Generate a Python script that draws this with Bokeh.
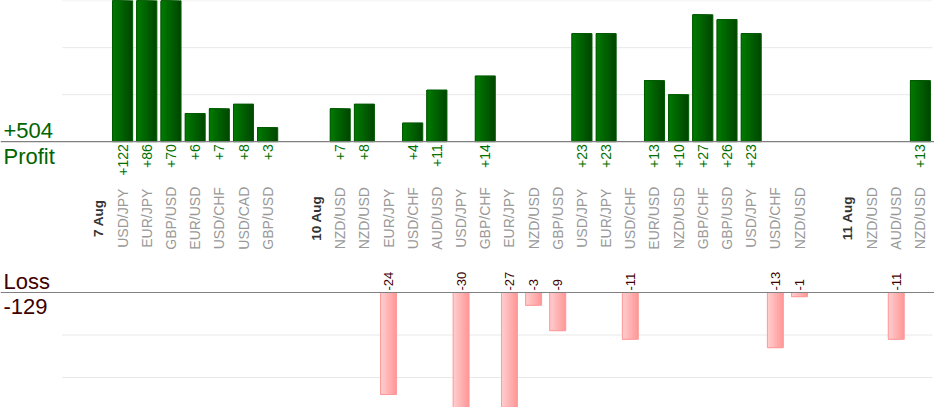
import math
from bokeh.plotting import figure
from bokeh.models import Range1d, Span, ColumnDataSource
from bokeh.layouts import column
from bokeh.transform import dodge
from bokeh.core.properties import value
from bokeh.embed import file_html
from bokeh.resources import INLINE

# ---------------- data ----------------
dates = ["7 Aug", "10 Aug", "11 Aug"]
pairs_7aug = ["USD/JPY", "EUR/JPY", "GBP/USD", "EUR/USD", "USD/CHF", "USD/CAD", "GBP/USD"]
result_7aug = [122, 86, 70, 6, 7, 8, 3]
pairs_10aug = ["NZD/USD", "NZD/USD", "EUR/JPY", "USD/CHF", "AUD/USD", "USD/JPY", "GBP/CHF",
               "EUR/JPY", "NZD/USD", "GBP/USD", "USD/JPY", "EUR/JPY", "USD/CHF", "EUR/USD",
               "NZD/USD", "GBP/CHF", "GBP/USD", "USD/JPY", "USD/CHF", "NZD/USD"]
result_10aug = [7, 8, -24, 4, 11, -30, 14, -27, -3, -9, 23, 23, -11, 13, 10, 27, 26, 23, -13, -1]
pairs_11aug = ["NZD/USD", "AUD/USD", "NZD/USD"]
result_11aug = [0, -11, 13]
grid_profit = [10, 20, 30]
grid_loss = [-10, -20]

groups = [(dates[0], pairs_7aug, result_7aug),
          (dates[1], pairs_10aug, result_10aug),
          (dates[2], pairs_11aug, result_11aug)]

# ---------------- slots ----------------
date_x, pair_x, pair_lbl = [], [], []
px, ptop, plbl = [], [], []
lx, lbot, llbl = [], [], []
slot = 0
for d, pairs, res in groups:
    slot += 1  # empty slot before each day
    date_x.append(slot + 0.5)
    slot += 1
    for name, r in zip(pairs, res):
        c = slot + 0.5
        pair_x.append(c)
        pair_lbl.append(name)
        if r > 0:
            px.append(c); ptop.append(r); plbl.append("+%d" % r)
        elif r < 0:
            lx.append(c); lbot.append(r); llbl.append("%d" % r)
        slot += 1
n_slots = slot
total_profit = sum(ptop)
total_loss = sum(lbot)

prof_src = ColumnDataSource(dict(x=px, top=ptop, lbl=plbl))
loss_src = ColumnDataSource(dict(x=lx, bottom=lbot, lbl=llbl))
pair_src = ColumnDataSource(dict(x=pair_x, lbl=pair_lbl))
date_src = ColumnDataSource(dict(x=date_x, lbl=dates))

# ---------------- layout ----------------
W = 934
LEFT_PX, RIGHT_PX = 61.7, 2.0
slot_px = (W - LEFT_PX - RIGHT_PX) / n_slots
xr = Range1d(-LEFT_PX / slot_px, n_slots + RIGHT_PX / slot_px)

H1, BASE1, PPU1 = 250, 141.2, 4.7
H2, BASE2, PPU2 = 157, 42.0, 4.25
yr1 = Range1d(-(H1 - BASE1) / PPU1, BASE1 / PPU1)
yr2 = Range1d(-(H2 - BASE2) / PPU2, BASE2 / PPU2)

FONT = value("Liberation Sans")
BIG_SHIFT = -7


def make(h, yr):
    p = figure(width=W, height=h, x_range=xr, y_range=yr, output_backend="svg",
               toolbar_location=None, min_border=0, x_axis_location=None,
               y_axis_location=None)
    p.grid.visible = False
    p.outline_line_color = None
    p.background_fill_color = "white"
    return p


def hexc(c):
    return tuple(int(c[i:i + 2], 16) for i in (1, 3, 5))


def lerp(c1, c2, t):
    a, b = hexc(c1), hexc(c2)
    return "#%02x%02x%02x" % tuple(int(round(a[i] + (b[i] - a[i]) * t)) for i in range(3))


def gradient_bars(p, src, width, dark, light, border, top=None, bottom=None, n=10):
    for j in range(n):
        frac = j / n
        kw = dict(x=dodge("x", -width * frac / 2), width=width * (1 - frac), source=src,
                  fill_color=lerp(dark, light, j / (n - 1)), line_color=None)
        if top:
            p.vbar(top=top, bottom=0, **kw)
        else:
            p.vbar(top=0, bottom=bottom, **kw)
    if top:
        p.vbar(x="x", top=top, bottom=0, width=width, source=src, fill_alpha=0,
               line_color=border, line_width=1)
    else:
        p.vbar(x="x", top=0, bottom=bottom, width=width, source=src, fill_alpha=0,
               line_color=border, line_width=1)


# ---------------- profit chart ----------------
p1 = make(H1, yr1)
p1.segment(x0=0, x1=n_slots, y0=grid_profit, y1=grid_profit, line_color="#e8e8e8", line_width=1)
gradient_bars(p1, prof_src, 0.83, "#004800", "#007800", "#005a00", top="top")
p1.add_layout(Span(location=0, dimension="width", line_color="#808080", line_width=1.2))

p1.text(x="x", y=0, text="lbl", source=prof_src, angle=math.pi / 2, text_align="right",
        text_baseline="middle", y_offset=2.5, text_font=FONT, text_font_size="14px",
        text_color="#007000")
p1.text(x="x", y=0, text="lbl", source=pair_src, angle=math.pi / 2, text_align="center",
        text_baseline="middle", y_offset=76.5, text_font=FONT, text_font_size="14px",
        text_color="#999999")
p1.text(x="x", y=0, text="lbl", source=date_src, angle=math.pi / 2, text_align="center",
        text_baseline="middle", y_offset=76.5, text_font=FONT, text_font_size="13.5px",
        text_font_style="bold", text_color="#333333")
p1.text(x=[xr.start], y=[0], text=["+%d" % total_profit], x_offset=3, y_offset=-4 + BIG_SHIFT,
        text_align="left", text_baseline="alphabetic", text_font=FONT,
        text_font_size="22px", text_color="#006400")
p1.text(x=[xr.start], y=[0], text=["Profit"], x_offset=3, y_offset=21.7 + BIG_SHIFT,
        text_align="left", text_baseline="alphabetic", text_font=FONT,
        text_font_size="22px", text_color="#006400")

# ---------------- loss chart ----------------
p2 = make(H2, yr2)
p2.segment(x0=0, x1=n_slots, y0=grid_loss, y1=grid_loss, line_color="#e8e8e8", line_width=1)
gradient_bars(p2, loss_src, 0.66, "#ff9999", "#ffcccc", "#ff9999", bottom="bottom")
p2.add_layout(Span(location=0, dimension="width", line_color="#808080", line_width=1.2))
p2.text(x="x", y=0, text="lbl", source=loss_src, angle=math.pi / 2, text_align="left",
        text_baseline="middle", y_offset=-2, text_font=FONT, text_font_size="13px",
        text_color="#400000")
p2.text(x=[xr.start], y=[0], text=["Loss"], x_offset=3, y_offset=-4 + BIG_SHIFT,
        text_align="left", text_baseline="alphabetic", text_font=FONT,
        text_font_size="22px", text_color="#400000")
p2.text(x=[xr.start], y=[0], text=["%d" % total_loss], x_offset=3, y_offset=21.0 + BIG_SHIFT,
        text_align="left", text_baseline="alphabetic", text_font=FONT,
        text_font_size="22px", text_color="#400000")

layout = column(p1, p2, spacing=0)
open("out.html", "w").write(file_html(layout, INLINE))
